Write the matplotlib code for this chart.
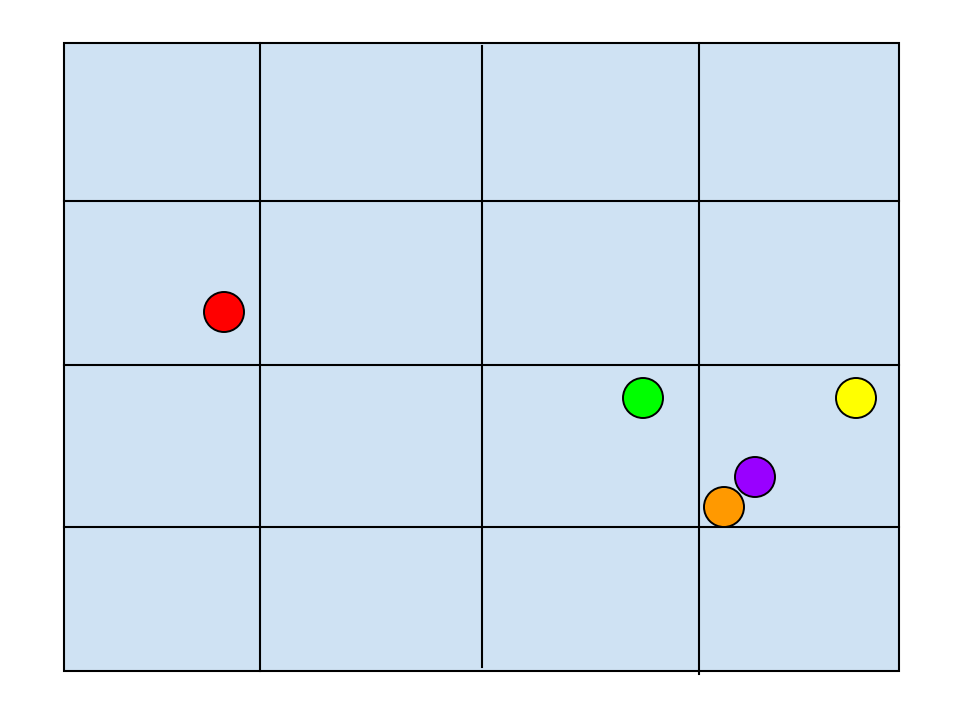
"""
Street grid map with coloured location markers.
"""

import matplotlib

matplotlib.use("Agg")
import matplotlib.pyplot as plt
from matplotlib.patches import Circle, Rectangle

FIG_WIDTH = 9.6
FIG_HEIGHT = 7.2
DPI = 100
BLOCK_COLOR = "#cfe2f3"
LINE_COLOR = "black"

# map extent (left, top, right, bottom) in map units
MAP_BOUNDS = (64, 43, 899, 671)

# streets: vertical ones as (x, y_start, y_end), horizontal ones as (y, x_start, x_end)
VERTICAL_STREETS = [(260, 43, 671), (482, 46, 667), (699, 43, 674)]
HORIZONTAL_STREETS = [(201, 64, 899), (365, 64, 899), (527, 64, 899)]

# locations
MARKER_X = [224, 643, 856, 755, 724]
MARKER_Y = [312, 398, 398, 477, 507]
MARKER_COLORS = ["#ff0000", "#00ff00", "#ffff00", "#9900ff", "#ff9900"]
MARKER_RADIUS = 20


def main() -> None:
    fig = plt.figure(figsize=(FIG_WIDTH, FIG_HEIGHT), dpi=DPI)
    axis = fig.add_axes([0, 0, 1, 1])
    axis.set_xlim(0, 960)
    axis.set_ylim(720, 0)
    axis.set_aspect("equal")
    axis.axis("off")

    left, top, right, bottom = MAP_BOUNDS
    axis.add_patch(
        Rectangle(
            (left, top),
            right - left,
            bottom - top,
            facecolor=BLOCK_COLOR,
            edgecolor=LINE_COLOR,
            linewidth=1.5,
            zorder=1,
        )
    )

    for x, y0, y1 in VERTICAL_STREETS:
        axis.plot([x, x], [y0, y1], color=LINE_COLOR, linewidth=1.5, zorder=2)
    for y, x0, x1 in HORIZONTAL_STREETS:
        axis.plot([x0, x1], [y, y], color=LINE_COLOR, linewidth=1.5, zorder=2)

    for x, y, color in zip(MARKER_X, MARKER_Y, MARKER_COLORS):
        axis.add_patch(
            Circle(
                (x, y),
                MARKER_RADIUS,
                facecolor=color,
                edgecolor=LINE_COLOR,
                linewidth=1.4,
                zorder=3,
            )
        )

    fig.savefig("out.png", dpi=DPI)
    plt.close(fig)


if __name__ == "__main__":
    main()
